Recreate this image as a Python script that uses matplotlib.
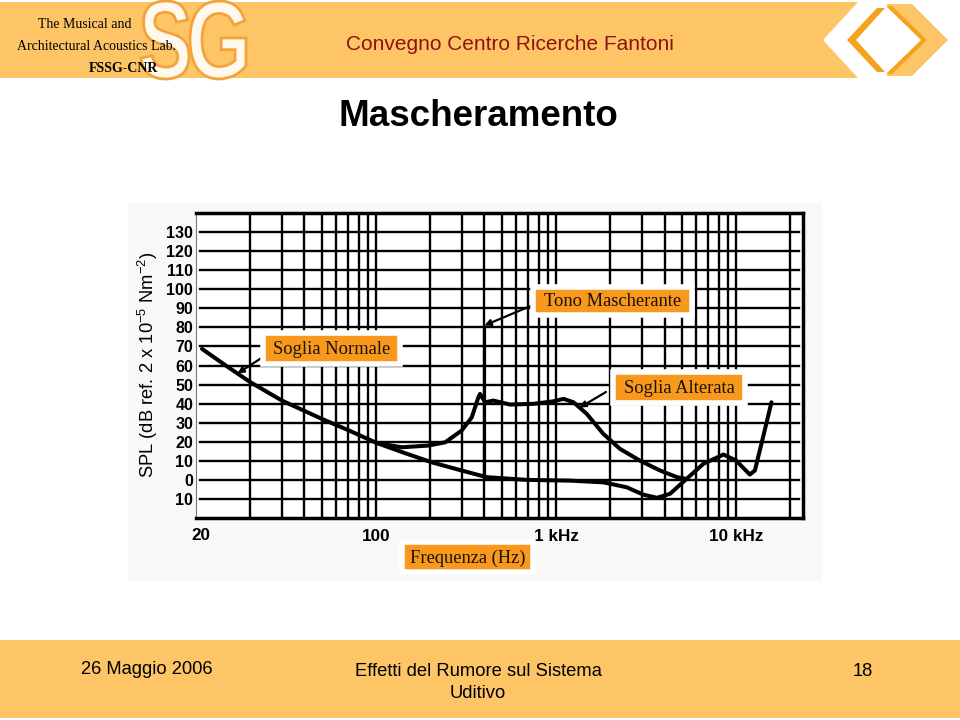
import numpy as np
import matplotlib.pyplot as plt
from matplotlib.patches import Rectangle, Polygon, PathPatch
from matplotlib.textpath import TextPath
from matplotlib.font_manager import FontProperties
from matplotlib.transforms import Affine2D

plt.rcParams['font.family'] = ['Liberation Sans', 'DejaVu Sans']
plt.rcParams['mathtext.fontset'] = 'custom'
plt.rcParams['mathtext.rm'] = 'Liberation Sans'
plt.rcParams['mathtext.it'] = 'Liberation Sans:italic'
plt.rcParams['mathtext.bf'] = 'Liberation Sans:bold'

# normal hearing threshold (Hz, dB)
norm_freq = [10.8, 15.1, 20, 30, 50, 70, 100, 140, 204, 299, 412, 688, 1200, 1830,
             2470, 3040, 3630, 4290, 5300, 6570, 8500, 10000, 11900, 12700, 14100, 15700]
norm_db = [68.7, 59.1, 51.3, 41.6, 32.0, 26.1, 19.5, 14.5, 9.2, 4.9, 1.4, 0.0, -0.4, -1.3,
           -3.9, -7.7, -9.4, -7.3, 0.5, 8.4, 13.3, 10.1, 2.8, 4.9, 22.4, 40.7]

# masked threshold (Hz, dB)
alt_freq = [100, 107, 139, 195, 242, 299, 340, 370, 378, 403, 448, 555, 750, 965,
            1100, 1250, 1480, 1830, 2260, 2920, 3780, 4700, 5300]
alt_db = [19.5, 18.9, 17.1, 18.0, 19.7, 25.9, 32.8, 43.3, 45.1, 40.7, 41.6, 39.5, 39.9, 41.2,
          42.5, 40.7, 34.6, 24.1, 16.3, 10.1, 4.9, 1.4, 0.5]

# masking tone
tone_freq = 400
tone_db = 81

grid_freq = [20, 30, 40, 50, 60, 70, 80, 90, 100, 200, 300, 400, 500, 600, 700, 800, 900,
             1000, 2000, 3000, 4000, 5000, 6000, 7000, 8000, 9000, 10000, 20000]
grid_db = [-10, 0, 10, 20, 30, 40, 50, 60, 70, 80, 90, 100, 110, 120, 130]
ytick_labels = ["10", "0", "10", "20", "30", "40", "50", "60", "70", "80", "90",
                "100", "110", "120", "130"]
xtick_freq = [100, 1000, 10000]
xtick_labels = ["100", "1 kHz", "10 kHz"]

ORANGE_BAND = '#FDC566'
ORANGE_DARK = '#F5A31C'
BOX = '#F8981D'

fig = plt.figure(figsize=(9.6, 7.2), dpi=100)

# background layer in image pixel coordinates
bg = fig.add_axes([0, 0, 1, 1])
bg.set_xlim(0, 960)
bg.set_ylim(720, 0)
bg.axis('off')

# header band + chevrons
bg.add_patch(Polygon([(0, 2), (858, 2), (823, 40), (858, 78), (0, 78)], color=ORANGE_BAND, lw=0))
bg.add_patch(Polygon([(847, 40), (877, 8), (885, 8), (856, 40), (885, 72), (877, 72)],
                     color=ORANGE_DARK, lw=0))
bg.add_patch(Polygon([(886, 4), (912, 4), (948, 40), (912, 76), (886, 76), (922, 40)],
                     color=ORANGE_BAND, lw=0))
bg.add_patch(Polygon([(886, 6), (892, 6), (927, 40), (892, 74), (886, 74), (921, 40)],
                     color=ORANGE_DARK, lw=0))

# SG logo letters
fp = FontProperties(family='Liberation Sans', weight='bold')
def glyph(ch, x0, x1, y0, y1):
    p = TextPath((0, 0), ch, size=1, prop=fp)
    ext = p.get_extents()
    tr = (Affine2D().translate(-ext.x0, -ext.y0)
          .scale((x1 - x0) / ext.width, -(y1 - y0) / ext.height)
          .translate(x0, y1))
    bg.add_patch(PathPatch(tr.transform_path(p), fc='#FFF8EC', ec='#F2A43A', lw=2))

glyph('S', 141, 189, 1, 79)
glyph('G', 190, 246, 1, 79)

bg.text(38, 24, 'The Musical and', family='Liberation Serif', fontsize=10, va='center')
bg.text(17, 46, 'Architectural Acoustics Lab.', family='Liberation Serif', fontsize=10, va='center')
bg.text(89, 68, 'FSSG-CNR', family='Liberation Serif', fontsize=10, fontweight='bold', va='center')
bg.text(510, 45, 'Convegno Centro Ricerche Fantoni', fontsize=15, color='#8E1212',
        ha='center', va='center')

# title
bg.text(478, 117, 'Mascheramento', fontsize=26.5, fontweight='bold', ha='center', va='center')

# footer
bg.add_patch(Rectangle((0, 640), 960, 78, color=ORANGE_BAND, lw=0))
bg.text(147, 669, '26 Maggio 2006', fontsize=13.2, ha='center', va='center')
bg.text(478, 671, 'Effetti del Rumore sul Sistema', fontsize=13.2, ha='center', va='center')
bg.text(478, 693, 'Uditivo', fontsize=13.2, ha='center', va='center')
bg.text(863, 671, '18', fontsize=13.2, ha='center', va='center')

# scanned-figure area
bg.add_patch(Rectangle((128, 203), 694, 378, color='#F8F8F8', lw=0))

# chart
ax = fig.add_axes([196 / 960, 1 - 518 / 720, 607 / 960, 305 / 720])
ax.set_facecolor('white')
ax.set_xscale('log')
ax.set_xlim(10, 23500)
ax.set_ylim(-20, 140)

ax.vlines(grid_freq, -20, 140, color='black', lw=1.7, zorder=1)
for d in grid_db:
    ax.axhline(d, xmin=0.007, xmax=0.993, color='black', lw=1.7, zorder=1)

ax.plot(norm_freq, norm_db, color='black', lw=2.9, solid_capstyle='round',
        solid_joinstyle='round', zorder=3)
ax.plot(alt_freq, alt_db, color='black', lw=2.9, solid_capstyle='round',
        solid_joinstyle='round', zorder=3)
tone_base = np.interp(np.log10(tone_freq), np.log10(norm_freq), norm_db)
ax.vlines(tone_freq, tone_base, tone_db, color='black', lw=2.3, zorder=3)

ax.set_xticks(xtick_freq)
ax.set_xticklabels(xtick_labels, fontsize=12.3, fontweight='bold')
ax.xaxis.set_minor_locator(plt.NullLocator())
ax.set_yticks(grid_db)
ax.set_yticklabels(ytick_labels, fontsize=11.5, fontweight='bold')
ax.tick_params(axis='x', length=0, pad=8)
ax.tick_params(axis='y', length=0, pad=2)

for s in ['top', 'bottom', 'right']:
    ax.spines[s].set_linewidth(2.5)
ax.spines['left'].set_linewidth(0.8)
ax.spines['left'].set_color('#777777')

# overlay layer for labels
top = fig.add_axes([0, 0, 1, 1])
top.set_xlim(0, 960)
top.set_ylim(720, 0)
top.axis('off')
top.patch.set_alpha(0)

top.text(201, 536, '20', fontsize=12.3, fontweight='bold', ha='center', va='center')
top.text(148, 365, r'SPL (dB ref. 2 x 10$^{-5}$ Nm$^{-2}$)', fontsize=13.2,
         rotation=90, ha='center', va='center')

def label_box(x0, y0, x1, y1, txt):
    top.add_patch(Rectangle((x0, y0), x1 - x0, y1 - y0, fc=BOX, ec='white', lw=4))
    top.text((x0 + x1) / 2, (y0 + y1) / 2 + 1, txt, family='Liberation Serif',
             fontsize=13.3, color='#1A1208', ha='center', va='center')

def arrow(xy, start):
    ax.annotate('', xy=xy, xycoords='data', xytext=start, textcoords=top.transData,
                arrowprops=dict(arrowstyle='-|>', color='black', lw=1.6,
                                mutation_scale=9, shrinkA=0, shrinkB=0),
                annotation_clip=False, zorder=4)

lf = np.log10(norm_freq)
p_norm = (17, np.interp(np.log10(17), lf, norm_db))
p_alt = (1350, np.interp(np.log10(1350), np.log10(alt_freq), alt_db))

arrow(p_norm, (263, 357))
arrow((tone_freq, tone_db), (533, 305))
arrow(p_alt, (606, 392))

label_box(263, 333, 400, 364, 'Soglia Normale')
label_box(533, 287, 692, 315, 'Tono Mascherante')
label_box(613, 372, 745, 403, 'Soglia Alterata')
label_box(402, 542, 533, 572, 'Frequenza (Hz)')

fig.savefig('out.png', dpi=100)
